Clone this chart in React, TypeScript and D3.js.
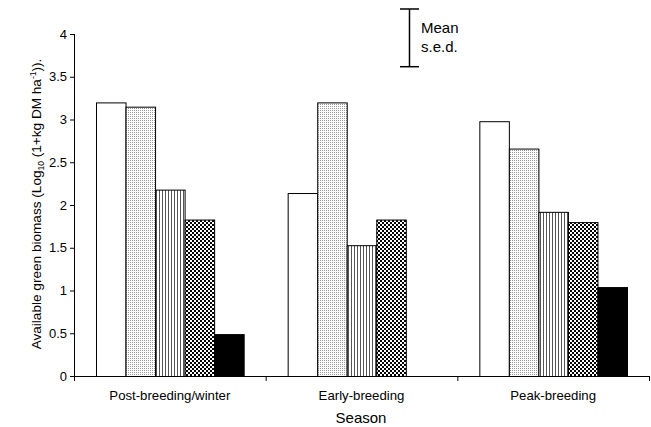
import React from "react";
import * as d3 from "d3";

const seasons = ["Post-breeding/winter", "Early-breeding", "Peak-breeding"];
const seriesKeys = ["open", "dotted", "vertical", "checker", "solid"];
const openValues = [3.2, 2.14, 2.98];
const dottedValues = [3.15, 3.2, 2.66];
const verticalValues = [2.18, 1.53, 1.92];
const checkerValues = [1.83, 1.83, 1.8];
const solidValues = [0.49, null, 1.04];
const yTicks = [0, 0.5, 1, 1.5, 2, 2.5, 3, 3.5, 4];
const sedValue = 0.675;
const sedCenter = 3.955;

const seriesValues: (number | null)[][] = [openValues, dottedValues, verticalValues, checkerValues, solidValues];
const fills = ["#ffffff", "url(#dots)", "url(#vlines)", "url(#checker)", "#000000"];

export default function App() {
  const W = 651, H = 427;
  const left = 74, right = 649, top = 34, bottom = 376;
  const x = d3.scaleBand<string>().domain(seasons).range([left, right]).paddingInner(0).paddingOuter(0);
  const y = d3.scaleLinear().domain([0, 4]).range([bottom, top]);
  const groupPad = 22;
  const xs = d3.scaleBand<string>().domain(seriesKeys).range([0, x.bandwidth() - 2 * groupPad]);
  const font = "Liberation Sans, Arial, sans-serif";
  const boundaries = [left, ...seasons.map((s) => (x(s) as number) + x.bandwidth())];
  const sedX = 409.5;
  return (
    <svg width={W} height={H} style={{ position: "absolute", left: 0, top: 0 }} fontFamily={font}>
      <defs>
        <pattern id="dots" width="2" height="2" patternUnits="userSpaceOnUse">
          <rect width="2" height="2" fill="#ffffff" />
          <rect width="1" height="1" fill="#9a9a9a" />
        </pattern>
        <pattern id="vlines" width="3" height="3" patternUnits="userSpaceOnUse">
          <rect width="3" height="3" fill="#ffffff" />
          <rect width="1" height="3" fill="#555555" />
        </pattern>
        <pattern id="checker" width="4" height="4" patternUnits="userSpaceOnUse">
          <rect width="4" height="4" fill="#ffffff" />
          <rect width="2" height="2" fill="#000000" />
          <rect x="2" y="2" width="2" height="2" fill="#000000" />
        </pattern>
      </defs>
      <rect width={W} height={H} fill="#fff" />
      {seasons.map((s, i) =>
        seriesKeys.map((k, j) => {
          const v = seriesValues[j][i];
          if (v == null) return null;
          const bx = (x(s) as number) + groupPad + (xs(k) as number);
          return (
            <rect
              key={s + k}
              x={bx + 0.5}
              y={y(v) + 0.5}
              width={xs.bandwidth()}
              height={y(0) - y(v)}
              fill={fills[j]}
              stroke="#000"
              strokeWidth={1}
            />
          );
        })
      )}
      {/* axes */}
      <line x1={left + 0.5} x2={left + 0.5} y1={y(4)} y2={bottom + 5} stroke="#000" />
      <line x1={left - 4} x2={right + 1} y1={bottom + 0.5} y2={bottom + 0.5} stroke="#000" />
      {yTicks.map((t) => (
        <g key={t}>
          <line x1={left - 4} x2={left} y1={y(t) + 0.5} y2={y(t) + 0.5} stroke="#000" />
          <text x={left - 7} y={y(t) + 4.5} fontSize={13} textAnchor="end" fill="#000">
            {t}
          </text>
        </g>
      ))}
      {boundaries.map((b) => (
        <line key={b} x1={b + 0.5} x2={b + 0.5} y1={bottom} y2={bottom + 5} stroke="#000" />
      ))}
      {seasons.map((s) => (
        <text key={s} x={(x(s) as number) + x.bandwidth() / 2} y={400} fontSize={13.2} textAnchor="middle" fill="#000">
          {s}
        </text>
      ))}
      <text x={361} y={423} fontSize={15} textAnchor="middle" fill="#000">
        Season
      </text>
      <text transform="translate(41,204) rotate(-90)" fontSize={13.6} textAnchor="middle" fill="#000">
        Available green biomass  (Log
        <tspan fontSize={8.5} dy={3}>10</tspan>
        <tspan dy={-3}> (1+kg DM ha</tspan>
        <tspan fontSize={8.5} dy={-5}>-1</tspan>
        <tspan dy={5}>)).</tspan>
      </text>
      {/* mean s.e.d. */}
      <line x1={sedX} x2={sedX} y1={y(sedCenter + sedValue / 2)} y2={y(sedCenter - sedValue / 2)} stroke="#000" strokeWidth={1.5} />
      <line x1={sedX - 9.5} x2={sedX + 9.5} y1={y(sedCenter + sedValue / 2)} y2={y(sedCenter + sedValue / 2)} stroke="#000" strokeWidth={1.5} />
      <line x1={sedX - 9.5} x2={sedX + 9.5} y1={y(sedCenter - sedValue / 2)} y2={y(sedCenter - sedValue / 2)} stroke="#000" strokeWidth={1.5} />
      <text x={421} y={33} fontSize={15} fill="#000">Mean</text>
      <text x={421} y={52} fontSize={15} fill="#000">s.e.d.</text>
    </svg>
  );
}
